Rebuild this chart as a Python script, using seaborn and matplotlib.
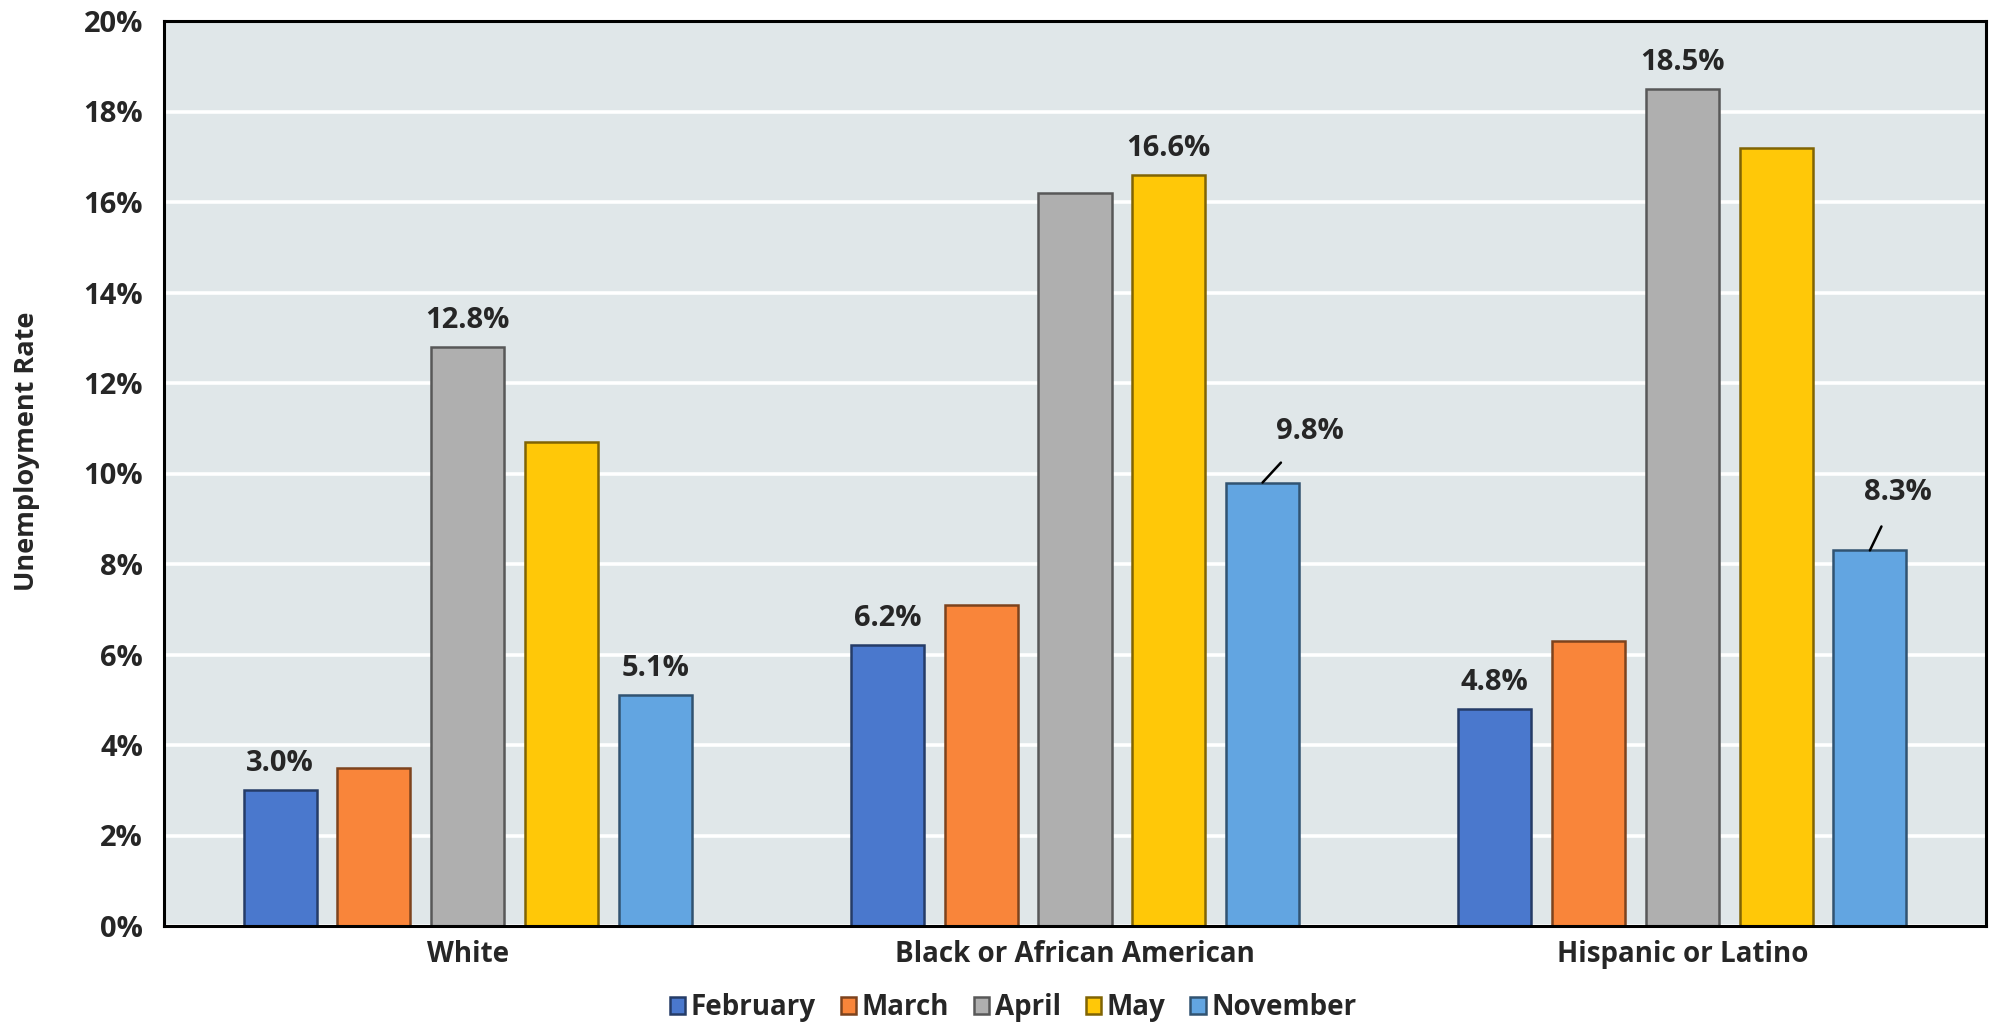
import matplotlib
matplotlib.use("Agg")
import matplotlib.pyplot as plt
import matplotlib.colors as mcolors
import numpy as np
import pandas as pd
import seaborn as sns

# ---- data ----
groups = ["White", "Black or African American", "Hispanic or Latino"]
months = ["February", "March", "April", "May", "November"]
february = [3.0, 6.2, 4.8]
march = [3.5, 7.1, 6.3]
april = [12.8, 16.2, 18.5]
may = [10.7, 16.6, 17.2]
november = [5.1, 9.8, 8.3]
yticks = [0, 2, 4, 6, 8, 10, 12, 14, 16, 18, 20]
# which bars carry a data label: (group, month)
labeled = [("White", "February"), ("White", "April"), ("White", "November"),
           ("Black or African American", "February"), ("Black or African American", "May"),
           ("Black or African American", "November"),
           ("Hispanic or Latino", "February"), ("Hispanic or Latino", "April"),
           ("Hispanic or Latino", "November")]
leader = {("Black or African American", "November"): (47, 51),
          ("Hispanic or Latino", "November"): (28, 58)}

colors = ["#4a78cd", "#f9853a", "#afafaf", "#ffc808", "#62a5e1"]

series = [february, march, april, may, november]
rows = []
for m, vals in zip(months, series):
    for g, v in zip(groups, vals):
        rows.append({"group": g, "month": m, "rate": v})
df = pd.DataFrame(rows)

sns.set_theme(style="white")
FONT = ["Open Sans", "DejaVu Sans"]
plt.rcParams["font.family"] = FONT
plt.rcParams["font.weight"] = "bold"

fig = plt.figure(figsize=(19.94, 10.26), dpi=100)
ax = fig.add_axes([164 / 1994, 1 - 926 / 1026, (1986 - 164) / 1994, (926 - 21) / 1026])
ax.set_facecolor("#e0e7e9")

sns.barplot(data=df, x="group", y="rate", hue="month", order=groups, hue_order=months,
            palette=colors, saturation=1, width=0.772, gap=0.22, ax=ax, legend=True,
            zorder=3, linewidth=1.8, edgecolor="#333333")

# darker edges matching each bar
for p in ax.patches:
    fc = np.array(mcolors.to_rgb(p.get_facecolor()))
    p.set_edgecolor(tuple(fc * 0.5))

ax.set_ylim(0, 20)
ax.set_yticks(yticks)
ax.set_yticklabels([f"{t}%" for t in yticks], fontsize=21, fontweight="bold")
ax.set_xlim(-0.5, 2.5)
ax.grid(axis="y", color="white", linewidth=2.6, zorder=0)
ax.grid(axis="x", visible=False)
ax.tick_params(axis="y", length=0, pad=15)
ax.tick_params(axis="x", length=0, pad=10)
ax.set_xticks(range(len(groups)))
ax.set_xticklabels(groups, fontsize=20, fontweight="bold")
for s in ax.spines.values():
    s.set_visible(True)
    s.set_color("black")
    s.set_linewidth(2.2)
    s.set_zorder(5)
ax.set_xlabel("")
ax.set_ylabel("Unemployment Rate", fontsize=19.5, fontweight="bold")
ax.yaxis.set_label_coords(-0.068, 0.525)

# data labels
for ci, cont in enumerate(ax.containers):
    m = months[ci]
    for gi, bar in enumerate(cont):
        g = groups[gi]
        if (g, m) not in labeled:
            continue
        v = df[(df.group == g) & (df.month == m)].rate.iloc[0]
        x = bar.get_x() + bar.get_width() / 2
        y = bar.get_height()
        if (g, m) in leader:
            dx, dy = leader[(g, m)]
            ax.annotate(f"{v:.1f}%", xy=(x, y), xytext=(dx, dy), textcoords="offset pixels",
                        ha="center", va="center", fontsize=21, fontweight="bold",
                        arrowprops=dict(arrowstyle="-", color="black", lw=1.8,
                                        shrinkA=13, shrinkB=0), zorder=6)
        else:
            ax.annotate(f"{v:.1f}%", xy=(x, y), xytext=(0, 12), textcoords="offset pixels",
                        ha="center", va="bottom", fontsize=21, fontweight="bold", zorder=6)

# legend
handles, labels = ax.get_legend_handles_labels()
ax.get_legend().remove()
leg = fig.legend(handles, labels, loc="center", bbox_to_anchor=(0.508, 0.018), ncol=5,
                 frameon=False, handlelength=0.55, handleheight=0.55,
                 handletextpad=0.2, columnspacing=0.9, prop={"weight": "bold", "size": 20,
                                                             "family": FONT})

fig.savefig("out.png", dpi=100)
